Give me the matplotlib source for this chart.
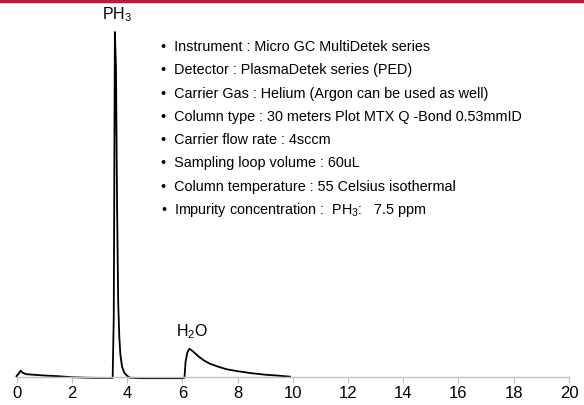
import matplotlib.pyplot as plt

# chromatogram trace (retention time in min, detector signal in arbitrary units)
time_min = [0.00, 0.04, 0.08, 0.15, 0.22, 0.35, 0.60, 1.00, 1.50, 2.00, 2.50,
            3.00, 3.48, 3.52, 3.56, 3.60, 3.64, 3.68, 3.72, 3.76, 3.82, 3.90,
            4.00, 4.10, 4.50, 5.00, 5.50, 6.00, 6.08, 6.12, 6.18, 6.26, 6.40,
            6.60, 6.80, 7.00, 7.30, 7.60, 8.00, 8.50, 9.00, 9.50, 9.90]
signal = [0.5, 2.0, 3.0, 6.0, 4.0, 2.5, 2.0, 1.2, 0.5, -0.5, -1.0,
          -1.2, -1.2, 60, 345, 310, 170, 75, 40, 22, 10, 4,
          1.0, -1.0, -1.5, -1.5, -1.5, -1.5, -1.0, 15, 24, 28, 25,
          20, 16, 13, 10, 7.5, 5.5, 3.5, 2.0, 1.0, 0.0]

x_ticks = [0, 2, 4, 6, 8, 10, 12, 14, 16, 18, 20]

conditions = [
    "Instrument : Micro GC MultiDetek series",
    "Detector : PlasmaDetek series (PED)",
    "Carrier Gas : Helium (Argon can be used as well)",
    "Column type : 30 meters Plot MTX Q -Bond 0.53mmID",
    "Carrier flow rate : 4sccm",
    "Sampling loop volume : 60uL",
    "Column temperature : 55 Celsius isothermal",
    r"Impurity concentration :  PH$_3$:   7.5 ppm",
]

plt.rcParams['font.family'] = ['Liberation Sans', 'DejaVu Sans']
plt.rcParams['mathtext.fontset'] = 'custom'
plt.rcParams['mathtext.rm'] = 'Liberation Sans'

fig = plt.figure(figsize=(5.84, 4.05), dpi=100)
ax = fig.add_axes([0.0283, 0.0699, 0.946, 0.851])

ax.plot(time_min, signal, color="black", lw=1.3, clip_on=False)

ax.set_xlim(0, 20)
ax.set_ylim(0, 345)
ax.set_xticks(x_ticks)
ax.tick_params(axis="x", length=4, color="#bfbfbf", labelsize=12, pad=3)
ax.set_yticks([])
for side in ["top", "right", "left"]:
    ax.spines[side].set_visible(False)
ax.spines["bottom"].set_color("#bfbfbf")
ax.spines["bottom"].set_linewidth(1.0)

# peak labels
ax.text(3.65, 353, r"PH$_3$", fontsize=11.5, ha="center", va="bottom")
ax.text(6.35, 36, r"H$_2$O", fontsize=11.5, ha="center", va="bottom")

# operating conditions
for i, line in enumerate(conditions):
    fig.text(0.275, 1 - (47 + i * 23.3) / 405, "\u2022  " + line,
             fontsize=10.4, ha="left", va="center")

# red rule along the top
fig.add_artist(plt.Line2D([0, 1], [0.998, 0.998], color="#b41f3c", lw=2.5))

fig.savefig("out.png", dpi=100)
